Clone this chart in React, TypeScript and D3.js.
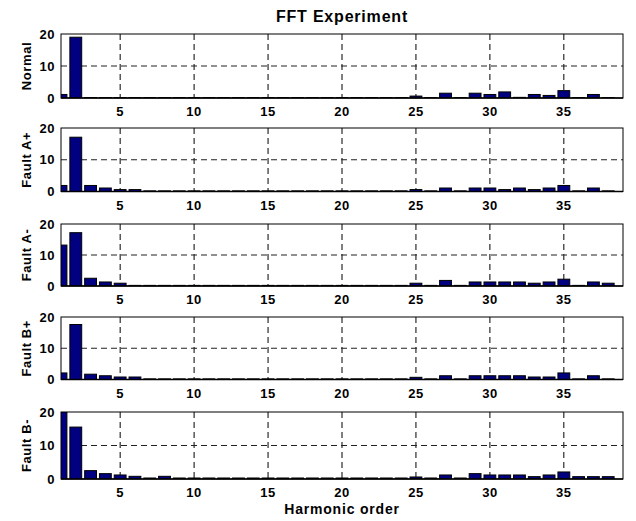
import React, { useEffect, useRef } from "react";
import * as d3 from "d3";

// harmonic orders 1..38
const harmonics = d3.range(1, 39);

const panelNames = ["Normal", "Fault A+", "Fault A-", "Fault B+", "Fault B-"];

const low = 0.15;

const normal = [
  1.1, 19.0, low, low, low, low, low, low, low, low,
  low, low, low, low, low, low, low, low, low, low,
  low, low, low, low, 0.6, low, 1.5, low, 1.5, 1.1,
  1.9, 0.2, 1.1, 0.8, 2.3, low, 1.1, low,
];

const faultAPlus = [
  1.9, 17.1, 1.9, 1.1, 0.6, 0.6, 0.2, 0.2, 0.2, 0.2,
  0.2, 0.2, 0.2, 0.2, 0.2, 0.2, 0.2, 0.2, 0.2, 0.2,
  0.2, 0.2, 0.2, 0.2, 0.6, 0.2, 1.1, 0.2, 1.1, 1.1,
  0.6, 1.1, 0.6, 1.1, 1.9, 0.2, 1.1, 0.2,
];

const faultAMinus = [
  13.2, 17.2, 2.5, 1.3, 0.9, 0.2, 0.2, 0.2, 0.2, 0.2,
  0.2, 0.2, 0.2, 0.2, 0.2, 0.2, 0.2, 0.2, 0.2, 0.2,
  0.2, 0.2, 0.2, 0.2, 0.9, 0.2, 1.8, 0.2, 1.3, 1.3,
  1.3, 1.3, 0.9, 1.3, 2.2, 0.2, 1.3, 0.9,
];

const faultBPlus = [
  2.1, 17.6, 1.7, 1.2, 0.8, 0.8, 0.2, 0.2, 0.2, 0.2,
  0.2, 0.2, 0.2, 0.2, 0.2, 0.2, 0.2, 0.2, 0.2, 0.2,
  0.2, 0.2, 0.2, 0.2, 0.7, 0.2, 1.2, 0.2, 1.2, 1.2,
  1.2, 1.2, 0.8, 0.8, 2.1, 0.2, 1.2, 0.2,
];

const faultBMinus = [
  20.0, 15.5, 2.5, 1.6, 1.2, 0.8, 0.3, 0.8, 0.3, 0.3,
  0.3, 0.3, 0.3, 0.3, 0.3, 0.3, 0.3, 0.3, 0.3, 0.3,
  0.3, 0.3, 0.3, 0.3, 0.6, 0.3, 1.2, 0.3, 1.6, 1.2,
  1.2, 1.2, 0.7, 1.2, 2.1, 0.7, 0.7, 0.7,
];

const series = [normal, faultAPlus, faultAMinus, faultBPlus, faultBMinus];

const xTicks = [5, 10, 15, 20, 25, 30, 35];
const yTicks = [0, 10, 20];

const FONT = "Liberation Sans, Arial, sans-serif";

const App = () => {
  const svgRef = useRef<SVGSVGElement>(null);

  useEffect(() => {
    const width = 636;
    const height = 521;
    const left = 61;
    const right = 623;
    // panel tops / bottoms (pixels)
    const tops = [34, 128, 224, 317, 412];
    const bottoms = [98, 191.5, 286, 379.5, 479];

    const svg = d3.select(svgRef.current).attr("width", width).attr("height", height);
    svg.selectAll("*").remove();

    svg.append("rect").attr("width", width).attr("height", height).attr("fill", "#fff");

    const x = d3.scaleLinear().domain([1, 39]).range([left, right]);
    const barW = x(1.8) - x(1);

    series.forEach((values, i) => {
      const y = d3.scaleLinear().domain([0, 20]).range([bottoms[i], tops[i]]);
      const g = svg.append("g");

      const clipId = `clip-${i}`;
      svg
        .append("clipPath")
        .attr("id", clipId)
        .append("rect")
        .attr("x", left)
        .attr("y", tops[i])
        .attr("width", right - left)
        .attr("height", bottoms[i] - tops[i]);

      // grid
      g.selectAll(".vgrid")
        .data(xTicks)
        .join("line")
        .attr("x1", (d) => x(d))
        .attr("x2", (d) => x(d))
        .attr("y1", tops[i])
        .attr("y2", bottoms[i])
        .attr("stroke", "#000")
        .attr("stroke-width", 1)
        .attr("stroke-dasharray", "6,4");

      g.selectAll(".hgrid")
        .data([10])
        .join("line")
        .attr("x1", left)
        .attr("x2", right)
        .attr("y1", (d) => y(d))
        .attr("y2", (d) => y(d))
        .attr("stroke", "#222")
        .attr("stroke-width", 1)
        .attr("stroke-dasharray", "6,4");

      // bars
      g.append("g")
        .attr("clip-path", `url(#${clipId})`)
        .selectAll("rect")
        .data(values)
        .join("rect")
        .attr("x", (d, k) => x(harmonics[k]) - barW / 2)
        .attr("y", (d) => y(d))
        .attr("width", barW)
        .attr("height", (d) => y(0) - y(d))
        .attr("fill", "#000080")
        .attr("stroke", "#000")
        .attr("stroke-width", 1);

      // box
      g.append("rect")
        .attr("x", left)
        .attr("y", tops[i])
        .attr("width", right - left)
        .attr("height", bottoms[i] - tops[i])
        .attr("fill", "none")
        .attr("stroke", "#000")
        .attr("stroke-width", 1);

      g.append("line")
        .attr("x1", left)
        .attr("x2", right)
        .attr("y1", y(0))
        .attr("y2", y(0))
        .attr("stroke", "#000")
        .attr("stroke-width", 1.5);

      // y tick labels
      g.selectAll(".ytl")
        .data(yTicks)
        .join("text")
        .attr("x", left - 6)
        .attr("y", (d) => y(d) + 4.5)
        .attr("text-anchor", "end")
        .attr("font-family", FONT)
        .attr("font-weight", "bold")
        .attr("font-size", 13)
        .attr("letter-spacing", 0.5)
        .text((d) => d);

      // x tick labels
      g.selectAll(".xtl")
        .data(xTicks)
        .join("text")
        .attr("x", (d) => x(d))
        .attr("y", bottoms[i] + 18)
        .attr("text-anchor", "middle")
        .attr("font-family", FONT)
        .attr("font-weight", "bold")
        .attr("font-size", 13)
        .attr("letter-spacing", 0.5)
        .text((d) => d);

      // panel label
      g.append("text")
        .attr("transform", `translate(30.5, ${(tops[i] + bottoms[i]) / 2}) rotate(-90)`)
        .attr("text-anchor", "middle")
        .attr("font-family", FONT)
        .attr("font-weight", "bold")
        .attr("font-size", 13)
        .attr("letter-spacing", 0.6)
        .text(panelNames[i]);
    });

    svg.append("text")
      .attr("x", (left + right) / 2)
      .attr("y", 21.5)
      .attr("text-anchor", "middle")
      .attr("font-family", FONT)
      .attr("font-weight", "bold")
      .attr("font-size", 16)
      .attr("letter-spacing", 0.8)
      .text("FFT Experiment");

    svg.append("text")
      .attr("x", (left + right) / 2)
      .attr("y", 514)
      .attr("text-anchor", "middle")
      .attr("font-family", FONT)
      .attr("font-weight", "bold")
      .attr("font-size", 14)
      .attr("letter-spacing", 0.8)
      .text("Harmonic order");
  }, []);

  return (
    <div style={{ position: "absolute", left: 0, top: 0 }}>
      <svg ref={svgRef}></svg>
    </div>
  );
};

export default App;
